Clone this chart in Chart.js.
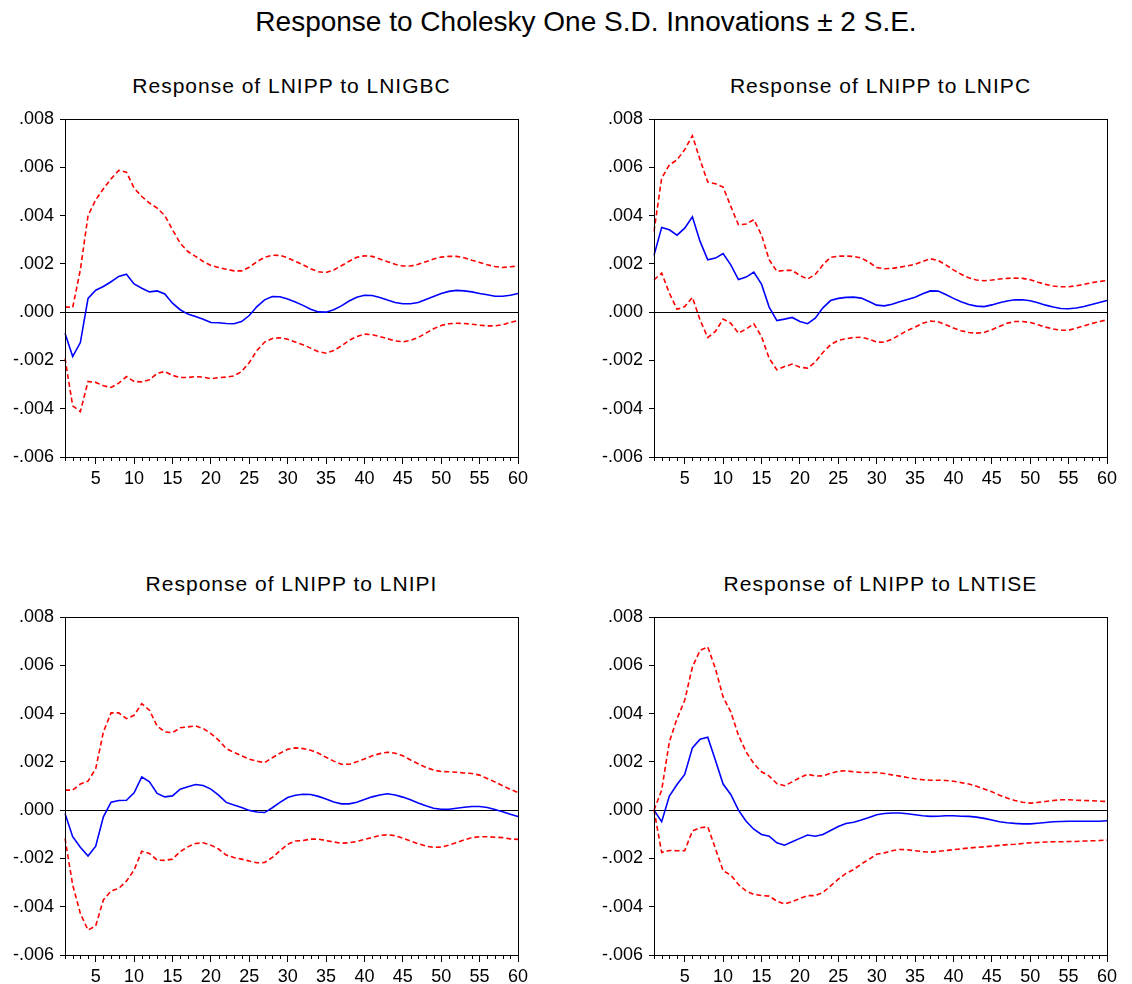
<!DOCTYPE html>
<html>
<head>
<meta charset="utf-8">
<script src="https://cdn.jsdelivr.net/npm/chart.js@4.4.1/dist/chart.umd.min.js"></script>
<style>
    body { margin: 0; background: #fff; overflow: hidden; width: 1132px; height: 984px; position: relative; font-family: 'Liberation Sans', Arial, sans-serif; }
    .titulo { position: absolute; left: 86px; width: 1000px; top: 8px; font-size: 28px; line-height: 28px; text-align: center; color: #000; }
    .subtitulo { position: absolute; font-size: 21px; line-height: 21px; letter-spacing: 1px; text-align: center; color: #000; }
    canvas { position: absolute; }
</style>
</head>
<body>

<div class="titulo">Response to Cholesky One S.D. Innovations ± 2 S.E.</div>

<div class="subtitulo" style="left:65px;width:453px;top:75px;">Response of LNIPP to LNIGBC</div>
<div class="subtitulo" style="left:654px;width:453px;top:75px;">Response of LNIPP to LNIPC</div>
<div class="subtitulo" style="left:65px;width:453px;top:573px;">Response of LNIPP to LNIPI</div>
<div class="subtitulo" style="left:654px;width:453px;top:573px;">Response of LNIPP to LNTISE</div>

<canvas id="g1" width="540" height="390" style="left:0px;top:99px;"></canvas>
<canvas id="g2" width="540" height="390" style="left:589px;top:99px;"></canvas>
<canvas id="g3" width="540" height="390" style="left:0px;top:597px;"></canvas>
<canvas id="g4" width="540" height="390" style="left:589px;top:597px;"></canvas>

<script>
// periodos (eixo x)
var periodos = [1, 2, 3, 4, 5, 6, 7, 8, 9, 10, 11, 12, 13, 14, 15, 16, 17, 18, 19, 20,
    21, 22, 23, 24, 25, 26, 27, 28, 29, 30, 31, 32, 33, 34, 35, 36, 37, 38, 39, 40,
    41, 42, 43, 44, 45, 46, 47, 48, 49, 50, 51, 52, 53, 54, 55, 56, 57, 58, 59, 60];

var marcasY = [-0.006, -0.004, -0.002, 0, 0.002, 0.004, 0.006, 0.008];

// LNIGBC
var gbcResp = [-0.00087, -0.00184, -0.00126, 0.00057, 0.00091, 0.00106, 0.00126, 0.00148, 0.00157, 0.00117,
    0.00099, 0.00084, 0.00088, 0.00075, 0.00037, 0.00010, -0.00008, -0.00018, -0.00029, -0.00043,
    -0.00044, -0.00047, -0.00048, -0.00039, -0.00014, 0.00023, 0.00051, 0.00065, 0.00064, 0.00054,
    0.00042, 0.00028, 0.00012, 0.00001, 0.00000, 0.00010, 0.00026, 0.00046, 0.00062, 0.00070,
    0.00069, 0.00061, 0.00050, 0.00040, 0.00035, 0.00035, 0.00040, 0.00052, 0.00065, 0.00077,
    0.00086, 0.00090, 0.00088, 0.00084, 0.00077, 0.00072, 0.00066, 0.00066, 0.00070, 0.00077];
var gbcSup = [0.00022, 0.00019, 0.00175, 0.00400, 0.00465, 0.00511, 0.00552, 0.00587, 0.00580, 0.00514,
    0.00479, 0.00452, 0.00431, 0.00400, 0.00341, 0.00286, 0.00251, 0.00231, 0.00210, 0.00193,
    0.00185, 0.00178, 0.00171, 0.00171, 0.00186, 0.00209, 0.00227, 0.00236, 0.00235, 0.00225,
    0.00210, 0.00196, 0.00180, 0.00167, 0.00164, 0.00175, 0.00192, 0.00211, 0.00227, 0.00233,
    0.00231, 0.00220, 0.00209, 0.00198, 0.00191, 0.00191, 0.00198, 0.00209, 0.00220, 0.00228,
    0.00231, 0.00231, 0.00225, 0.00215, 0.00206, 0.00196, 0.00189, 0.00185, 0.00188, 0.00191];
var gbcInf = [-0.00191, -0.00388, -0.00412, -0.00287, -0.00291, -0.00305, -0.00312, -0.00294, -0.00267, -0.00287,
    -0.00289, -0.00280, -0.00253, -0.00246, -0.00262, -0.00271, -0.00271, -0.00267, -0.00269, -0.00276,
    -0.00271, -0.00269, -0.00264, -0.00246, -0.00209, -0.00159, -0.00124, -0.00109, -0.00106, -0.00112,
    -0.00124, -0.00135, -0.00149, -0.00164, -0.00170, -0.00159, -0.00140, -0.00117, -0.00101, -0.00091,
    -0.00093, -0.00101, -0.00110, -0.00119, -0.00123, -0.00117, -0.00105, -0.00087, -0.00069, -0.00055,
    -0.00048, -0.00046, -0.00047, -0.00050, -0.00054, -0.00057, -0.00057, -0.00052, -0.00043, -0.00035];

// LNIPC
var pcResp = [0.00235, 0.00351, 0.00341, 0.00319, 0.00348, 0.00395, 0.00293, 0.00217, 0.00224, 0.00243,
    0.00196, 0.00135, 0.00145, 0.00166, 0.00116, 0.00021, -0.00035, -0.00029, -0.00022, -0.00039,
    -0.00048, -0.00025, 0.00018, 0.00048, 0.00057, 0.00061, 0.00062, 0.00058, 0.00044, 0.00029,
    0.00026, 0.00033, 0.00043, 0.00052, 0.00062, 0.00076, 0.00088, 0.00087, 0.00073, 0.00057,
    0.00043, 0.00032, 0.00025, 0.00023, 0.00030, 0.00039, 0.00046, 0.00051, 0.00051, 0.00047,
    0.00039, 0.00029, 0.00021, 0.00015, 0.00014, 0.00017, 0.00023, 0.00032, 0.00040, 0.00048];
var pcSup = [0.00335, 0.00555, 0.00610, 0.00631, 0.00673, 0.00731, 0.00631, 0.00539, 0.00532, 0.00518,
    0.00438, 0.00362, 0.00365, 0.00383, 0.00320, 0.00217, 0.00169, 0.00173, 0.00173, 0.00152,
    0.00137, 0.00156, 0.00196, 0.00227, 0.00232, 0.00232, 0.00231, 0.00224, 0.00207, 0.00185,
    0.00180, 0.00181, 0.00186, 0.00192, 0.00198, 0.00210, 0.00221, 0.00214, 0.00196, 0.00175,
    0.00157, 0.00142, 0.00133, 0.00130, 0.00133, 0.00137, 0.00140, 0.00141, 0.00140, 0.00134,
    0.00124, 0.00115, 0.00108, 0.00105, 0.00105, 0.00109, 0.00115, 0.00122, 0.00127, 0.00131];
var pcInf = [0.00134, 0.00162, 0.00079, 0.00012, 0.00023, 0.00061, -0.00032, -0.00105, -0.00080, -0.00029,
    -0.00046, -0.00087, -0.00070, -0.00048, -0.00101, -0.00191, -0.00239, -0.00225, -0.00215, -0.00228,
    -0.00232, -0.00207, -0.00167, -0.00135, -0.00117, -0.00110, -0.00105, -0.00104, -0.00112, -0.00124,
    -0.00125, -0.00112, -0.00094, -0.00076, -0.00062, -0.00046, -0.00037, -0.00040, -0.00052, -0.00066,
    -0.00077, -0.00084, -0.00087, -0.00084, -0.00073, -0.00059, -0.00046, -0.00039, -0.00039, -0.00043,
    -0.00052, -0.00062, -0.00070, -0.00075, -0.00075, -0.00066, -0.00057, -0.00047, -0.00039, -0.00032];

// LNIPI
var piResp = [-0.00014, -0.00110, -0.00154, -0.00190, -0.00149, -0.00028, 0.00033, 0.00040, 0.00041, 0.00072,
    0.00138, 0.00117, 0.00069, 0.00055, 0.00059, 0.00087, 0.00097, 0.00106, 0.00102, 0.00087,
    0.00062, 0.00032, 0.00021, 0.00011, -0.00001, -0.00008, -0.00010, 0.00010, 0.00032, 0.00052,
    0.00062, 0.00066, 0.00065, 0.00057, 0.00046, 0.00034, 0.00026, 0.00026, 0.00033, 0.00044,
    0.00055, 0.00063, 0.00068, 0.00063, 0.00054, 0.00043, 0.00030, 0.00018, 0.00008, 0.00004,
    0.00004, 0.00008, 0.00012, 0.00015, 0.00015, 0.00011, 0.00003, -0.00007, -0.00017, -0.00026];
var piSup = [0.00083, 0.00083, 0.00108, 0.00120, 0.00172, 0.00324, 0.00403, 0.00403, 0.00379, 0.00393,
    0.00441, 0.00414, 0.00348, 0.00324, 0.00321, 0.00341, 0.00345, 0.00349, 0.00338, 0.00317,
    0.00290, 0.00255, 0.00239, 0.00225, 0.00211, 0.00203, 0.00197, 0.00217, 0.00236, 0.00252,
    0.00258, 0.00255, 0.00248, 0.00236, 0.00219, 0.00203, 0.00190, 0.00190, 0.00200, 0.00212,
    0.00225, 0.00234, 0.00240, 0.00236, 0.00225, 0.00208, 0.00192, 0.00177, 0.00166, 0.00160,
    0.00159, 0.00157, 0.00154, 0.00152, 0.00145, 0.00131, 0.00117, 0.00101, 0.00086, 0.00073];
var piInf = [-0.00117, -0.00310, -0.00428, -0.00497, -0.00479, -0.00372, -0.00335, -0.00324, -0.00294, -0.00248,
    -0.00170, -0.00179, -0.00207, -0.00208, -0.00203, -0.00172, -0.00152, -0.00138, -0.00135, -0.00145,
    -0.00161, -0.00186, -0.00196, -0.00203, -0.00211, -0.00218, -0.00217, -0.00196, -0.00168, -0.00142,
    -0.00128, -0.00126, -0.00120, -0.00120, -0.00126, -0.00132, -0.00137, -0.00135, -0.00130, -0.00121,
    -0.00113, -0.00105, -0.00102, -0.00106, -0.00116, -0.00128, -0.00139, -0.00149, -0.00154, -0.00153,
    -0.00145, -0.00134, -0.00123, -0.00114, -0.00110, -0.00110, -0.00112, -0.00114, -0.00119, -0.00121];

// LNTISE
var tiseResp = [0.00000, -0.00048, 0.00058, 0.00106, 0.00148, 0.00258, 0.00294, 0.00302, 0.00207, 0.00108,
    0.00065, 0.00000, -0.00046, -0.00079, -0.00101, -0.00108, -0.00135, -0.00145, -0.00131, -0.00117,
    -0.00103, -0.00108, -0.00101, -0.00084, -0.00068, -0.00055, -0.00050, -0.00041, -0.00030, -0.00019,
    -0.00014, -0.00012, -0.00012, -0.00015, -0.00019, -0.00023, -0.00026, -0.00025, -0.00023, -0.00023,
    -0.00025, -0.00026, -0.00029, -0.00034, -0.00041, -0.00048, -0.00052, -0.00055, -0.00057, -0.00057,
    -0.00054, -0.00051, -0.00048, -0.00047, -0.00046, -0.00046, -0.00046, -0.00046, -0.00046, -0.00044];
var tiseSup = [0.00000, 0.00083, 0.00283, 0.00379, 0.00455, 0.00593, 0.00662, 0.00676, 0.00586, 0.00469,
    0.00407, 0.00310, 0.00241, 0.00193, 0.00159, 0.00141, 0.00110, 0.00101, 0.00117, 0.00135,
    0.00149, 0.00141, 0.00142, 0.00153, 0.00161, 0.00163, 0.00159, 0.00156, 0.00156, 0.00156,
    0.00152, 0.00146, 0.00141, 0.00135, 0.00130, 0.00126, 0.00124, 0.00124, 0.00123, 0.00120,
    0.00114, 0.00108, 0.00099, 0.00088, 0.00076, 0.00062, 0.00050, 0.00040, 0.00033, 0.00029,
    0.00032, 0.00036, 0.00040, 0.00043, 0.00043, 0.00041, 0.00040, 0.00039, 0.00037, 0.00036];
var tiseInf = [0.00000, -0.00175, -0.00167, -0.00168, -0.00168, -0.00086, -0.00073, -0.00069, -0.00159, -0.00251,
    -0.00269, -0.00308, -0.00335, -0.00349, -0.00354, -0.00356, -0.00377, -0.00389, -0.00379, -0.00366,
    -0.00354, -0.00354, -0.00341, -0.00314, -0.00286, -0.00262, -0.00246, -0.00223, -0.00203, -0.00183,
    -0.00177, -0.00168, -0.00163, -0.00164, -0.00168, -0.00172, -0.00174, -0.00171, -0.00167, -0.00164,
    -0.00160, -0.00157, -0.00154, -0.00152, -0.00149, -0.00146, -0.00143, -0.00141, -0.00138, -0.00135,
    -0.00134, -0.00132, -0.00131, -0.00131, -0.00130, -0.00130, -0.00128, -0.00127, -0.00126, -0.00124];

Chart.defaults.font.family = "'Liberation Sans', Arial, sans-serif";
Chart.defaults.color = '#000';

// caixa em volta da area e marcas menores do eixo x
var moldura = {
    id: 'moldura',
    afterDraw: function (chart) {
        var a = chart.chartArea;
        var c = chart.ctx;
        var xs = chart.scales.x;
        c.save();
        c.strokeStyle = '#000';
        c.lineWidth = 1;
        c.strokeRect(a.left + 0.5, a.top + 0.5, a.right - a.left, a.bottom - a.top);
        c.beginPath();
        for (var i = 0; i < periodos.length; i++) {
            if (periodos[i] % 5 !== 0) {
                var px = Math.round(xs.getPixelForValue(i)) + 0.5;
                c.moveTo(px, a.bottom + 1);
                c.lineTo(px, a.bottom + 4);
            }
        }
        c.stroke();
        c.restore();
    }
};

function rotuloY(v) {
    var s = Math.abs(v).toFixed(3).replace(/^0/, '');
    return v < -1e-9 ? '-' + s : s;
}

function CriarPainel(id, resposta, superior, inferior) {
    var ctx = document.getElementById(id).getContext('2d');
    return new Chart(ctx, {
        type: 'line',
        data: {
            labels: periodos,
            datasets: [{
                data: superior,
                borderColor: '#ff0000',
                borderWidth: 1.6,
                borderDash: [5, 3],
                pointRadius: 0,
                tension: 0
            }, {
                data: inferior,
                borderColor: '#ff0000',
                borderWidth: 1.6,
                borderDash: [5, 3],
                pointRadius: 0,
                tension: 0
            }, {
                data: resposta,
                borderColor: '#0000ff',
                borderWidth: 1.6,
                pointRadius: 0,
                tension: 0
            }]
        },
        options: {
            responsive: false,
            animation: false,
            layout: { padding: { top: 20, left: 0, right: 22, bottom: 0 } },
            plugins: {
                legend: { display: false },
                tooltip: { enabled: false }
            },
            scales: {
                x: {
                    type: 'category',
                    offset: false,
                    afterFit: function (s) { s.height = 32; },
                    border: { display: true, color: '#000', width: 1 },
                    grid: {
                        drawOnChartArea: false,
                        tickLength: 7,
                        tickColor: function (c) {
                            return periodos[c.index] % 5 === 0 ? '#000' : 'rgba(0,0,0,0)';
                        }
                    },
                    ticks: {
                        autoSkip: false,
                        maxRotation: 0,
                        padding: 4,
                        font: { size: 18 },
                        callback: function (v, i) {
                            return periodos[i] % 5 === 0 ? String(periodos[i]) : '';
                        }
                    }
                },
                y: {
                    min: marcasY[0],
                    max: marcasY[marcasY.length - 1],
                    afterFit: function (s) { s.width = 65; },
                    border: { display: true, color: '#000', width: 1 },
                    grid: {
                        drawOnChartArea: true,
                        tickLength: 5,
                        tickColor: '#000',
                        color: function (c) {
                            return Math.abs(c.tick.value) < 1e-9 ? '#000' : 'rgba(0,0,0,0)';
                        }
                    },
                    ticks: {
                        stepSize: 0.002,
                        padding: 6,
                        font: { size: 18 },
                        callback: function (v) { return rotuloY(v); }
                    }
                }
            }
        },
        plugins: [moldura]
    });
}

CriarPainel('g1', gbcResp, gbcSup, gbcInf);
CriarPainel('g2', pcResp, pcSup, pcInf);
CriarPainel('g3', piResp, piSup, piInf);
CriarPainel('g4', tiseResp, tiseSup, tiseInf);
</script>
</body>
</html>
